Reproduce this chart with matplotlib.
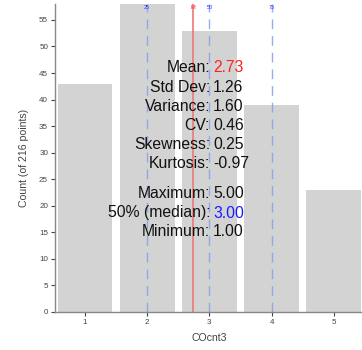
import matplotlib
matplotlib.use("Agg")
import matplotlib.pyplot as plt
import numpy as np

categories = [1, 2, 3, 4, 5]
counts = [43, 58, 53, 39, 23]
quartile_labels = ["25", "50", "75"]
quartile_values = [2.0, 3.0, 4.0]
stat_names = ["Mean", "Std Dev", "Variance", "CV", "Skewness", "Kurtosis",
              "Maximum", "50% (median)", "Minimum"]
stat_values = [2.73, 1.26, 1.60, 0.46, 0.25, -0.97, 5.00, 3.00, 1.00]
stat_colors = ["#ff2020", "#111111", "#111111", "#111111", "#111111", "#111111",
               "#111111", "#1a1aff", "#111111"]
total = sum(counts)
mean_val = stat_values[0]

plt.rcParams['font.family'] = ['Liberation Sans', 'DejaVu Sans']

fig = plt.figure(figsize=(3.62, 3.50), dpi=100)
ax = fig.add_axes([55 / 362, 1 - 312 / 350, 1 - 55 / 362, (312 - 4) / 350])

ax.bar(categories, counts, width=0.88, color="#d3d3d3", edgecolor="none", zorder=1)
ax.set_xlim(0.518, 5.454)
ax.set_ylim(0, 58)

for q, lab in zip(quartile_values, quartile_labels):
    ax.axvline(q, color="#8ea2e6", lw=1.0, ls=(0, (7, 5)), alpha=0.9, zorder=2)
    ax.text(q, 0.997, lab, transform=ax.get_xaxis_transform(), ha="center", va="top",
            fontsize=4, color="#3030ff", zorder=3)
ax.axvline(mean_val, color="#ee7777", lw=1.2, zorder=2)
ax.text(mean_val, 0.997, "M", transform=ax.get_xaxis_transform(), ha="center", va="top",
        fontsize=4, color="#ff2020", zorder=3)

# summary statistics block
ys = [67, 87, 106, 125, 144, 163, 194, 213, 232]
for name, val, col, yp in zip(stat_names, stat_values, stat_colors, ys):
    fy = 1 - yp / 350
    fig.text(210 / 362, fy, name + ":", ha="right", va="center", fontsize=11.3, color="#111111")
    fig.text(213 / 362, fy, f"{val:.2f}", ha="left", va="center", fontsize=11.3, color=col)

ax.set_xticks(categories)
ax.set_yticks(range(0, 56, 5))
ax.tick_params(axis="both", labelsize=5.8, colors="#444444", length=3, width=0.8, pad=2)
for s in ["top", "right"]:
    ax.spines[s].set_visible(False)
for s in ["left", "bottom"]:
    ax.spines[s].set_color("#888888")
    ax.spines[s].set_linewidth(1.0)

ax.set_ylabel(f"Count (of {total} points)", fontsize=7.6, color="#444444")
ax.yaxis.set_label_coords(29 / 362, 0.5, transform=fig.transFigure)
ax.yaxis.label.set_y(1 - 158 / 350)
ax.set_xlabel("COcnt3", fontsize=7.6, color="#444444")
ax.xaxis.set_label_coords(209 / 362, 1 - 333 / 350, transform=fig.transFigure)

fig.savefig("out.png", dpi=100)
